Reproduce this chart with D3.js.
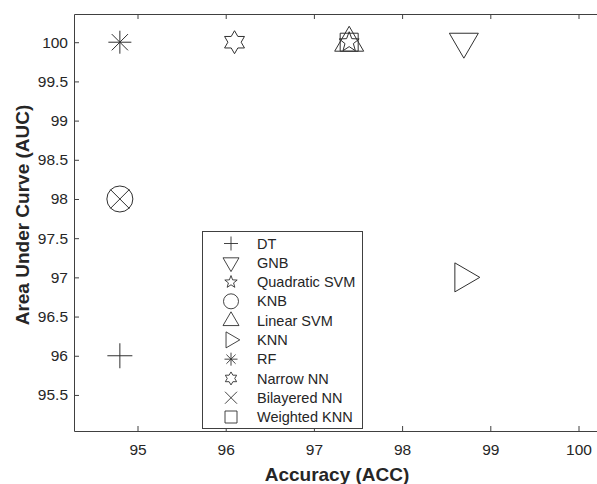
<!DOCTYPE html>
<html>
<head>
<meta charset="utf-8">
<script src="https://cdn.jsdelivr.net/npm/d3@7"></script>
<style>
  body { margin: 0; background: #fff; }
  text { font-family: "Liberation Sans", Arial, Helvetica, sans-serif; fill: #262626; }
</style>
</head>
<body>
<div id="chart-area"></div>
<script>
// data
var models = ["DT", "GNB", "Quadratic SVM", "KNB", "Linear SVM", "KNN", "RF", "Narrow NN", "Bilayered NN", "Weighted KNN"];
var markers = ["plus", "triDown", "pentagram", "circle", "triUp", "triRight", "asterisk", "hexagram", "cross", "square"];
var acc = [94.8, 98.7, 97.4, 94.8, 97.4, 98.7, 94.8, 96.1, 94.8, 97.4];
var auc = [96, 100, 100, 98, 100, 97, 100, 100, 98, 100];
var xTicks = [95, 96, 97, 98, 99, 100];
var yTicks = [95.5, 96, 96.5, 97, 97.5, 98, 98.5, 99, 99.5, 100];

var width = 597;
var height = 484;
var margin = {top: 14, left: 74, bottom: 53};
var axisColor = "#404040";
var markColor = "#303030";

const svg = d3.select("#chart-area")
  .append("svg")
    .attr("width", width)
    .attr("height", height);

//Scales
var x = d3.scaleLinear()
  .domain([94.28, 100.3])
  .range([margin.left, margin.left + 6.02 * 88.2]);

var y = d3.scaleLinear()
  .domain([95.04, 100.36])
  .range([height - margin.bottom, margin.top]);

// marker shapes, s = overall size in px
function markerPath(type, s) {
  var p = d3.path();
  var h = s / 2;
  if (type == "plus") {
    p.moveTo(-h, 0); p.lineTo(h, 0); p.moveTo(0, -h); p.lineTo(0, h);
  } else if (type == "cross") {
    p.moveTo(-h, -h); p.lineTo(h, h); p.moveTo(-h, h); p.lineTo(h, -h);
  } else if (type == "asterisk") {
    var d = h * 0.707;
    p.moveTo(-h, 0); p.lineTo(h, 0); p.moveTo(0, -h); p.lineTo(0, h);
    p.moveTo(-d, -d); p.lineTo(d, d); p.moveTo(-d, d); p.lineTo(d, -d);
  } else if (type == "circle") {
    p.moveTo(h, 0); p.arc(0, 0, h, 0, 2 * Math.PI);
  } else if (type == "square") {
    p.rect(-h, -h, s, s);
  } else if (type == "triDown" || type == "triUp" || type == "triRight") {
    var th = s * 0.86;
    var a = th * 0.64, b = th * 0.36;
    var pts;
    if (type == "triDown") pts = [[-h, -b], [h, -b], [0, a]];
    if (type == "triUp") pts = [[-h, b], [h, b], [0, -a]];
    if (type == "triRight") pts = [[-b, -h], [-b, h], [a, 0]];
    p.moveTo(pts[0][0], pts[0][1]); p.lineTo(pts[1][0], pts[1][1]); p.lineTo(pts[2][0], pts[2][1]); p.closePath();
  } else if (type == "pentagram" || type == "hexagram") {
    var n = type == "pentagram" ? 5 : 6;
    var rin = type == "pentagram" ? h * 0.42 : h / Math.sqrt(3);
    for (var i = 0; i < 2 * n; i++) {
      var ang = -Math.PI / 2 + i * Math.PI / n;
      var r = i % 2 == 0 ? h : rin;
      if (i == 0) p.moveTo(r * Math.cos(ang), r * Math.sin(ang));
      else p.lineTo(r * Math.cos(ang), r * Math.sin(ang));
    }
    p.closePath();
  }
  return p.toString();
}

var plotSize = {plus: 25, cross: 19, asterisk: 23, circle: 26, square: 18, triDown: 29, triUp: 29, triRight: 29, pentagram: 21, hexagram: 23};
var legendSize = {plus: 14, cross: 12, asterisk: 13, circle: 15, square: 12, triDown: 16, triUp: 16, triRight: 16, pentagram: 13, hexagram: 13};

//Axes
var x0 = x.range()[0], x1 = x.range()[1];
var y0 = y.range()[0], y1 = y.range()[1];

svg.append("g")
  .attr("transform", "translate(0," + y0 + ")")
  .call(d3.axisBottom(x).tickValues(xTicks).tickFormat(d3.format("d")).tickSizeInner(-5).tickSizeOuter(0).tickPadding(13))
  .call(g => g.selectAll("text").style("font-size", "15.5px").attr("fill", "#262626"));

svg.append("g")
  .attr("transform", "translate(0," + y1 + ")")
  .call(d3.axisTop(x).tickValues(xTicks).tickFormat("").tickSizeInner(-5).tickSizeOuter(0));

svg.append("g")
  .attr("transform", "translate(" + x0 + ",0)")
  .call(d3.axisLeft(y).tickValues(yTicks).tickFormat(d3.format("")).tickSizeInner(-5).tickSizeOuter(0).tickPadding(6))
  .call(g => g.selectAll("text").style("font-size", "15.5px").attr("fill", "#262626"));

svg.append("g")
  .attr("transform", "translate(" + x1 + ",0)")
  .call(d3.axisRight(y).tickValues(yTicks).tickFormat("").tickSizeInner(-5).tickSizeOuter(0));

svg.selectAll(".domain, .tick line").attr("stroke", axisColor);

//Labels
svg.append("text")
  .attr("x", 337)
  .attr("y", 481)
  .style("text-anchor", "middle")
  .style("font-size", "19px")
  .style("font-weight", "bold")
  .text("Accuracy (ACC)");

svg.append("text")
  .attr("transform", "translate(29,215) rotate(-90)")
  .style("text-anchor", "middle")
  .style("font-size", "19px")
  .style("font-weight", "bold")
  .text("Area Under Curve (AUC)");

//Points
models.forEach((m, i) => {
  svg.append("path")
    .attr("transform", "translate(" + x(acc[i]) + "," + y(auc[i]) + ")")
    .attr("d", markerPath(markers[i], plotSize[markers[i]]))
    .attr("fill", "none")
    .attr("stroke", markColor)
    .attr("stroke-width", 1);
});

//Legend
var legend = svg.append("g");
legend.append("rect")
  .attr("x", 202.5)
  .attr("y", 231.5)
  .attr("width", 160)
  .attr("height", 197)
  .attr("fill", "#fff")
  .attr("stroke", axisColor)
  .attr("stroke-width", 1);

var row = d3.scalePoint()
  .domain(models)
  .range([243.5, 417]);

models.forEach((m, i) => {
  legend.append("path")
    .attr("transform", "translate(231," + row(m) + ")")
    .attr("d", markerPath(markers[i], legendSize[markers[i]]))
    .attr("fill", "none")
    .attr("stroke", markColor)
    .attr("stroke-width", 0.9);

  legend.append("text")
    .attr("x", 257)
    .attr("y", row(m))
    .attr("dy", "0.35em")
    .style("font-size", "14.5px")
    .text(m);
});
</script>
</body>
</html>
